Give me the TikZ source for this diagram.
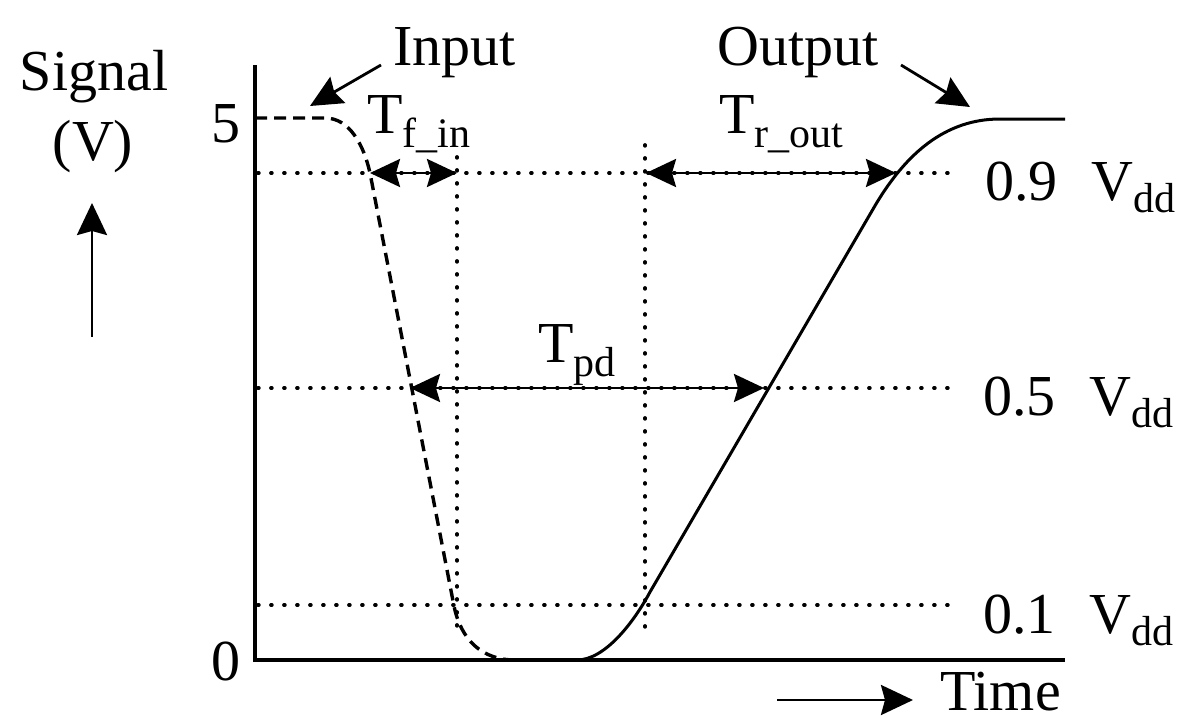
\documentclass[tikz,border=0pt]{standalone}
\usepackage{fontspec}
\setmainfont{Liberation Serif}
\usetikzlibrary{arrows.meta}
\newcommand{\lsub}[2][7pt]{\raisebox{-#1}{\fontsize{21pt}{21pt}\selectfont #2}}
\begin{document}
\begin{tikzpicture}[x=0.5pt,y=-0.5pt,
 lbl/.style={inner sep=0pt, font=\fontsize{29pt}{34pt}\selectfont},
 axisline/.style={line width=1.7pt},
 dotline/.style={line width=1.9pt, dash pattern=on 0.4pt off 6.1pt, line cap=round},
 dashline/.style={line width=1.7pt, dash pattern=on 6pt off 3.5pt},
 sigline/.style={line width=1.5pt},
 dim/.style={line width=1.4pt, {Stealth[length=15pt,width=14pt,inset=2pt]}-{Stealth[length=15pt,width=14pt,inset=2pt]}},
 ptr/.style={line width=1.4pt, -{Stealth[length=16pt,width=15pt,inset=2pt]}}
]
\useasboundingbox (0,0) rectangle (1179,718);

% axes
\coordinate (ytop) at (255,65);
\coordinate (o) at (255,660);
\coordinate (xend) at (1065,660);
\draw[axisline] (ytop) -- (o) -- (xend);

% level lines
\coordinate (l9a) at (258,173); \coordinate (l9b) at (957,173);
\coordinate (l5a) at (258,388); \coordinate (l5b) at (957,388);
\coordinate (l1a) at (258,605); \coordinate (l1b) at (957,605);
\draw[dotline] (l9a) -- (l9b);
\draw[dotline] (l5a) -- (l5b);
\draw[dotline] (l1a) -- (l1b);
\coordinate (v1a) at (457,157); \coordinate (v1b) at (457,634);
\coordinate (v2a) at (645,145); \coordinate (v2b) at (645,634);
\draw[dotline] (v1a) -- (v1b);
\draw[dotline] (v2a) -- (v2b);

% input (dashed)
\draw[dashline] (255,118) -- (325,118) .. controls (350,118) and (364,146) .. (370,173)
  -- (454,606) .. controls (461,640) and (482,660) .. (515,660);

% output (solid)
\draw[sigline] (577,660) .. controls (605,660) and (634,622) .. (650,592)
  -- (876,204) .. controls (906,154) and (945,119) .. (1000,119) -- (1065,119);

% dimension arrows
\coordinate (tfa) at (370,173); \coordinate (tfb) at (457,173);
\coordinate (tra) at (646,173); \coordinate (trb) at (896,173);
\coordinate (tpa) at (410,388); \coordinate (tpb) at (764,388);
\draw[dim] (tfa) -- (tfb);
\draw[dim] (tra) -- (trb);
\draw[dim] (tpa) -- (tpb);

% labels
\node[lbl, anchor=base] (sig) at (94,90) {Signal};
\node[lbl, anchor=base] (vunit) at (93,160) {(V)};
\node[lbl, anchor=base east] (five) at (241,142) {5};
\node[lbl, anchor=base east] (zero) at (241,680) {0};
\node[lbl, anchor=base west] (inp) at (393,65) {Input};
\node[lbl, anchor=base west] (outp) at (717,65) {Output};
\node[lbl, anchor=base west] (tf) at (367,133) {T\lsub{f\_in}};
\node[lbl, anchor=base west] (tr) at (719,133) {T\lsub{r\_out}};
\node[lbl, anchor=base west] (tp) at (538,362) {T\lsub{pd}};
\node[lbl, anchor=base west] (n9) at (985,200) {0.9\hspace{0.58em}V\lsub[6pt]{dd}};
\node[lbl, anchor=base west] (n5) at (983,415) {0.5\hspace{0.58em}V\lsub[6pt]{dd}};
\node[lbl, anchor=base west] (n1) at (983,633) {0.1\hspace{0.58em}V\lsub[6pt]{dd}};
\node[lbl, anchor=base west] (time) at (940,710) {Time};

% pointer arrows
\coordinate (ia) at (381,65); \coordinate (ib) at (310,106);
\coordinate (oa) at (901,65); \coordinate (ob) at (970,107);
\coordinate (ua) at (92,337); \coordinate (ub) at (92,203);
\coordinate (ta) at (777,700); \coordinate (tb) at (913,700);
\draw[ptr] (ia) -- (ib);
\draw[ptr] (oa) -- (ob);
\draw[ptr] (ua) -- (ub);
\draw[ptr] (ta) -- (tb);
\end{tikzpicture}
\end{document}
